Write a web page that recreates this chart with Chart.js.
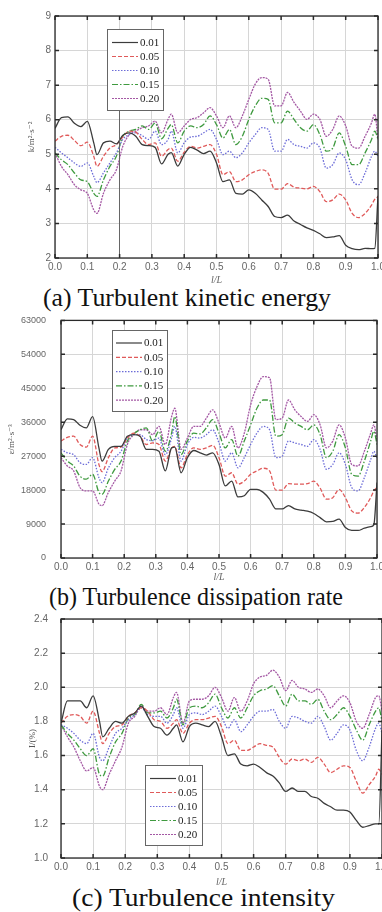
<!DOCTYPE html>
<html>
<head>
<meta charset="utf-8">
<script src="https://cdn.jsdelivr.net/npm/chart.js@4"></script>
<style>
  body { margin: 0; width: 382px; height: 912px; overflow: hidden; background: #fff; position: relative; }
  canvas { position: absolute; left: 0; }
  .cap { position: absolute; font-family: "Liberation Serif", "Times New Roman", Times, "DejaVu Serif", serif; font-size: 25px; line-height: 28px; color: #111; white-space: nowrap; transform-origin: 0 50%; }
</style>
</head>
<body>
<span class="cap" id="capA" data-left="43" data-width="288" style="top:284px">(a) Turbulent kinetic energy</span>
<span class="cap" id="capB" data-left="49" data-width="294" style="top:583px">(b) Turbulence dissipation rate</span>
<span class="cap" id="capC" data-left="72" data-width="263" style="top:884px">(c) Turbulence intensity</span>
<canvas id="chartA" width="390" height="286" style="top:0px"></canvas>
<canvas id="chartB" width="389" height="283" style="top:300px"></canvas>
<canvas id="chartC" width="394" height="288" style="top:600px"></canvas>
<script>
// position along the tube, shared by all curves
const xPos = [0, 0.02, 0.04, 0.06, 0.08, 0.10, 0.12, 0.13, 0.15, 0.17, 0.19, 0.21, 0.23, 0.25, 0.27, 0.29, 0.31, 0.33, 0.35,
  0.36, 0.38, 0.40, 0.42, 0.44, 0.46, 0.48, 0.50, 0.52, 0.54, 0.56, 0.58, 0.60, 0.62, 0.64, 0.66, 0.68, 0.70, 0.72, 0.74,
  0.76, 0.78, 0.80, 0.82, 0.84, 0.86, 0.88, 0.90, 0.92, 0.94, 0.96, 0.98, 0.99, 1.00];
const seriesLabels = ["0.01", "0.05", "0.10", "0.15", "0.20"];

// (a) turbulent kinetic energy, m2/s2
const ke001 = [5.75, 6.06, 6.08, 5.9, 5.8, 5.95, 5.33, 4.99, 5.33, 5.38, 5.3, 5.55, 5.62, 5.52, 5.28, 5.25, 5.2, 4.72, 5.0,
  5.05, 4.66, 5.0, 5.2, 5.12, 5.02, 5.09, 4.75, 4.21, 4.26, 3.87, 3.85, 3.97, 3.87, 3.68, 3.49, 3.2, 3.17, 3.24, 3.07,
  2.97, 2.87, 2.8, 2.7, 2.59, 2.61, 2.65, 2.37, 2.27, 2.24, 2.28, 2.27, 2.28, 3.8];
const ke005 = [5.38, 5.52, 5.55, 5.4, 5.25, 5.35, 4.94, 4.65, 4.94, 5.18, 5.28, 5.5, 5.67, 5.64, 5.43, 5.28, 5.33, 4.94, 5.14,
  5.18, 4.8, 5.06, 5.23, 5.18, 5.23, 5.28, 5.0, 4.41, 4.5, 4.21, 4.26, 4.41, 4.5, 4.55, 4.45, 3.99, 3.99, 4.15, 4.05,
  4.02, 4.0, 4.07, 3.92, 3.63, 3.68, 3.85, 3.68, 3.29, 3.17, 3.29, 3.53, 3.7, 3.77];
const ke010 = [5.2, 5.04, 4.9, 4.75, 4.65, 4.75, 4.36, 4.18, 4.46, 4.75, 5.04, 5.43, 5.57, 5.62, 5.54, 5.43, 5.67, 5.28, 5.43,
  5.67, 5.04, 5.33, 5.5, 5.52, 5.62, 5.72, 5.43, 4.99, 5.09, 4.9, 5.04, 5.33, 5.57, 5.77, 5.72, 5.09, 5.09, 5.43, 5.28,
  5.23, 5.18, 5.33, 5.18, 4.6, 4.7, 5.04, 4.84, 4.26, 4.12, 4.46, 4.94, 5.09, 4.94];
const ke015 = [5.04, 4.84, 4.7, 4.46, 4.26, 4.21, 3.87, 3.78, 4.26, 4.65, 4.94, 5.52, 5.67, 5.72, 5.82, 5.72, 5.9, 5.45, 5.75,
  5.86, 5.33, 5.67, 5.82, 5.77, 5.86, 6.11, 5.86, 5.47, 5.72, 5.28, 5.52, 6.01, 6.4, 6.62, 6.59, 5.91, 5.91, 6.25, 6.01,
  5.77, 5.67, 5.86, 5.57, 5.09, 5.18, 5.62, 5.23, 4.7, 4.7, 5.04, 5.43, 5.67, 5.43];
const ke020 = [5.04, 4.65, 4.41, 4.12, 3.97, 3.87, 3.39, 3.29, 3.87, 4.26, 4.55, 5.23, 5.57, 5.67, 5.77, 5.82, 5.96, 5.62, 6.01,
  6.16, 5.62, 5.82, 6.01, 6.06, 6.2, 6.35, 6.11, 5.77, 6.11, 5.77, 6.11, 6.59, 7.03, 7.22, 7.17, 6.4, 6.4, 6.79, 6.5,
  6.25, 6.01, 6.16, 6.01, 5.52, 5.72, 6.11, 5.82, 5.23, 5.18, 5.52, 5.91, 6.16, 5.43];

// (b) turbulence dissipation rate, m2/s3
const eps001 = [34000, 36900, 36700, 35200, 34500, 37500, 29200, 25700, 28800, 29600, 29600, 32300, 32700, 32300, 28800, 28800, 28300, 23100, 29200,
  29400, 22600, 26600, 28500, 27900, 27300, 27900, 24800, 19100, 20400, 16200, 16500, 18200, 18200, 17400, 15600, 13000, 13000, 13900, 13000,
  12700, 12400, 11800, 10700, 9600, 9700, 10300, 8100, 7300, 7300, 7900, 8300, 8800, 20000];
const eps005 = [31000, 32000, 32300, 30100, 29400, 32300, 24800, 22900, 26600, 29200, 29400, 31800, 33100, 32300, 30100, 30500, 30100, 25700, 29200,
  29600, 23900, 27400, 29200, 28800, 29200, 29900, 26600, 21700, 22600, 19600, 20400, 22200, 23100, 23800, 23100, 18000, 18000, 19700, 19600,
  19600, 19700, 20400, 18500, 15600, 16000, 18200, 16000, 12500, 11900, 13400, 16000, 17800, 18700];
const eps010 = [28800, 27900, 27400, 25300, 24800, 26600, 21300, 20000, 23900, 26600, 28300, 31800, 32700, 32700, 31400, 31100, 31800, 27400, 31800,
  34900, 25700, 30100, 32000, 31800, 32700, 34000, 30500, 25700, 27900, 23900, 26600, 30100, 33100, 34900, 34000, 26600, 27000, 31000, 30500,
  30100, 29600, 31400, 28800, 23500, 24800, 27900, 24800, 18700, 17800, 21300, 26100, 28300, 26600];
const eps015 = [27900, 25700, 24400, 21700, 20900, 22200, 17400, 16900, 20400, 23500, 25700, 31000, 32900, 34000, 34500, 31000, 33600, 28300, 33100,
  37500, 27400, 31000, 33100, 32900, 34500, 36700, 33100, 29200, 31400, 27000, 31000, 35300, 39700, 41900, 41900, 32300, 32700, 37100, 35800,
  34900, 34000, 35300, 32700, 26600, 28300, 32700, 29200, 22200, 21700, 25700, 31000, 33600, 30100];
const eps020 = [26600, 24400, 23100, 18700, 17800, 17800, 14300, 13900, 17400, 20400, 23100, 30100, 32700, 34000, 34000, 32700, 34900, 30100, 37500,
  39700, 28800, 31800, 34900, 34900, 37100, 39300, 35800, 31800, 34900, 29200, 33100, 40600, 45400, 48100, 47800, 36700, 37100, 41900, 39300,
  37500, 36200, 38000, 35300, 29200, 31000, 35300, 31800, 24800, 24400, 28300, 33100, 35300, 31000];

// (c) turbulence intensity, %
const ti001 = [1.79, 1.92, 1.92, 1.92, 1.88, 1.95, 1.8, 1.71, 1.76, 1.8, 1.79, 1.83, 1.85, 1.89, 1.83, 1.77, 1.76, 1.72, 1.76,
  1.78, 1.68, 1.77, 1.79, 1.78, 1.77, 1.8, 1.71, 1.6, 1.61, 1.55, 1.54, 1.55, 1.53, 1.5, 1.48, 1.44, 1.39, 1.41, 1.39,
  1.39, 1.36, 1.35, 1.32, 1.3, 1.28, 1.28, 1.27, 1.22, 1.18, 1.19, 1.2, 1.2, 1.75];
const ti005 = [1.79, 1.83, 1.84, 1.83, 1.79, 1.86, 1.73, 1.67, 1.73, 1.77, 1.78, 1.83, 1.85, 1.88, 1.86, 1.81, 1.8, 1.76, 1.79,
  1.81, 1.73, 1.79, 1.81, 1.81, 1.82, 1.83, 1.77, 1.67, 1.69, 1.63, 1.63, 1.65, 1.67, 1.66, 1.65, 1.59, 1.55, 1.58, 1.57,
  1.58, 1.56, 1.59, 1.55, 1.5, 1.52, 1.54, 1.53, 1.45, 1.38, 1.43, 1.48, 1.52, 1.49];
const ti010 = [1.78, 1.76, 1.73, 1.69, 1.67, 1.73, 1.59, 1.57, 1.65, 1.73, 1.76, 1.81, 1.84, 1.88, 1.84, 1.83, 1.83, 1.79, 1.84,
  1.88, 1.76, 1.84, 1.85, 1.84, 1.86, 1.89, 1.83, 1.76, 1.81, 1.74, 1.78, 1.83, 1.86, 1.86, 1.87, 1.8, 1.76, 1.83, 1.82,
  1.8, 1.79, 1.83, 1.77, 1.69, 1.73, 1.78, 1.75, 1.63, 1.57, 1.65, 1.76, 1.79, 1.73];
const ti015 = [1.78, 1.73, 1.69, 1.64, 1.6, 1.64, 1.49, 1.48, 1.59, 1.68, 1.73, 1.82, 1.84, 1.9, 1.85, 1.85, 1.86, 1.82, 1.88,
  1.93, 1.78, 1.88, 1.89, 1.88, 1.91, 1.96, 1.88, 1.82, 1.88, 1.82, 1.88, 1.95, 1.98, 1.99, 2.01, 1.95, 1.89, 1.96, 1.92,
  1.92, 1.9, 1.93, 1.86, 1.81, 1.84, 1.88, 1.83, 1.75, 1.69, 1.78, 1.86, 1.88, 1.8];
const ti020 = [1.78, 1.71, 1.65, 1.57, 1.51, 1.53, 1.42, 1.4, 1.49, 1.57, 1.65, 1.79, 1.83, 1.89, 1.86, 1.86, 1.88, 1.84, 1.94,
  1.97, 1.79, 1.92, 1.93, 1.93, 1.95, 2.0, 1.94, 1.86, 1.94, 1.86, 1.92, 2.02, 2.06, 2.07, 2.1, 2.06, 1.98, 2.04, 2.0,
  1.99, 1.97, 1.99, 1.95, 1.88, 1.92, 1.95, 1.91, 1.8, 1.76, 1.84, 1.94, 1.95, 1.86];

const lineStyles = [
  { color: "#3c3c3c", dash: [] },
  { color: "#e05a5a", dash: [4, 2] },
  { color: "#6c6cd8", dash: [1.5, 1.5] },
  { color: "#3f9a3f", dash: [6, 2, 1.5, 2] },
  { color: "#a458a4", dash: [2, 1] }
];

const SERIF = '"Liberation Serif", "Times New Roman", Times, "DejaVu Serif", serif';
const SANS = '"Liberation Sans", Arial, Helvetica, sans-serif';

// frame, inward ticks on all four sides, the boxed legend
const framePlugin = {
  id: "frame",
  afterDraw(chart, args, opts) {
    const { ctx, chartArea: a, scales } = chart;
    const xs = scales.x, ys = scales.y;
    ctx.save();
    if (opts.mark) {
      // stray dark rule under the legend in panel (a)
      const px = Math.round(xs.getPixelForValue(opts.mark.x) - 0.5) + 0.5;
      ctx.strokeStyle = "#666";
      ctx.lineWidth = 1;
      ctx.beginPath();
      ctx.moveTo(px, opts.mark.y0); ctx.lineTo(px, a.bottom);
      ctx.stroke();
    }
    ctx.strokeStyle = "#2a2a2a";
    ctx.lineWidth = 1.3;
    ctx.strokeRect(a.left, a.top, a.right - a.left, a.bottom - a.top);
    ctx.lineWidth = 1.5;
    ctx.beginPath();
    xs.ticks.forEach(t => {
      const px = xs.getPixelForValue(t.value);
      ctx.moveTo(px, a.top); ctx.lineTo(px, a.top + 4);
      ctx.moveTo(px, a.bottom); ctx.lineTo(px, a.bottom - 4);
    });
    ys.ticks.forEach(t => {
      const py = ys.getPixelForValue(t.value);
      ctx.moveTo(a.left, py); ctx.lineTo(a.left + 4, py);
      ctx.moveTo(a.right, py); ctx.lineTo(a.right - 4, py);
    });
    ctx.stroke();

    const L = opts.box;
    ctx.fillStyle = "#fff";
    ctx.fillRect(L.x, L.y, L.w, L.h);
    ctx.strokeStyle = "#666";
    ctx.lineWidth = 1;
    ctx.strokeRect(L.x + 0.5, L.y + 0.5, L.w, L.h);
    ctx.font = "11px " + SERIF;
    ctx.textBaseline = "middle";
    chart.data.datasets.forEach((ds, i) => {
      const yy = L.row0 + i * L.gap;
      ctx.setLineDash(ds.borderDash);
      ctx.strokeStyle = ds.borderColor;
      ctx.lineWidth = 1.2;
      ctx.beginPath();
      ctx.moveTo(L.l0, yy); ctx.lineTo(L.l1, yy);
      ctx.stroke();
      ctx.setLineDash([]);
      ctx.fillStyle = "#222";
      ctx.fillText(ds.label, L.tx, yy + 0.5);
    });
    ctx.restore();
  }
};

function makeChart(id, series, cfg) {
  const canvas = document.getElementById(id);
  const datasets = series.map((vals, i) => ({
    label: seriesLabels[i],
    data: xPos.map((x, j) => ({ x: x, y: vals[j] })),
    borderColor: lineStyles[i].color,
    borderDash: lineStyles[i].dash,
    borderWidth: 1.3,
    pointRadius: 0,
    cubicInterpolationMode: "monotone",
    fill: false
  }));

  return new Chart(canvas, {
    type: "line",
    data: { datasets: datasets },
    plugins: [framePlugin],
    options: {
      responsive: false,
      animation: false,
      layout: { padding: { top: cfg.top, right: canvas.width - cfg.right, left: 0, bottom: 0 } },
      plugins: {
        legend: { display: false },
        tooltip: { enabled: false },
        frame: { box: cfg.box, mark: cfg.mark }
      },
      scales: {
        x: {
          type: "linear",
          min: 0, max: 1,
          afterFit: s => { s.height = canvas.height - cfg.bottom; },
          grid: { color: "#d6d6d6", drawTicks: false },
          border: { display: false },
          ticks: {
            stepSize: 0.1, padding: 3, color: "#666", maxRotation: 0,
            font: { family: SANS, size: 10 },
            callback: v => v.toFixed(1)
          },
          title: {
            display: true, text: "l/L", color: "#666", padding: { top: 0, bottom: 0 },
            font: { family: SERIF, size: 10, style: "italic" }
          }
        },
        y: {
          min: cfg.yMin, max: cfg.yMax,
          afterFit: s => { s.width = cfg.left; },
          grid: { color: "#d6d6d6", drawTicks: false },
          border: { display: false },
          ticks: {
            stepSize: cfg.yStep, padding: cfg.tickPad, color: "#666",
            font: { family: SANS, size: cfg.tickSize },
            callback: v => v.toFixed(cfg.dec)
          },
          title: {
            display: true, text: cfg.yTitle, color: "#555", padding: { top: cfg.titlePad, bottom: 0 },
            font: { family: SERIF, size: 9 }
          }
        }
      }
    }
  });
}

makeChart("chartA", [ke001, ke005, ke010, ke015, ke020], {
  top: 16, bottom: 258, left: 55, right: 378, tickPad: 4, tickSize: 10,
  yMin: 2, yMax: 9, yStep: 1, dec: 0, yTitle: "k/m²·s⁻²", titlePad: 26,
  box: { x: 107, y: 29, w: 56, h: 81, row0: 42.5, gap: 14, l0: 112, l1: 138, tx: 140 },
  mark: { x: 0.2, y0: 111 }
});

makeChart("chartB", [eps001, eps005, eps010, eps015, eps020], {
  top: 18, bottom: 258, left: 61, right: 377, tickPad: 15, tickSize: 9,
  yMin: 0, yMax: 63000, yStep: 9000, dec: 0, yTitle: "ε/m²·s⁻³", titlePad: 6,
  box: { x: 112, y: 30, w: 55, h: 81, row0: 43, gap: 14.3, l0: 116, l1: 142, tx: 144 }
});

makeChart("chartC", [ti001, ti005, ti010, ti015, ti020], {
  top: 17, bottom: 258, left: 61, right: 382, tickPad: 13, tickSize: 10,
  yMin: 1.0, yMax: 2.4, yStep: 0.2, dec: 1, yTitle: "I/(%)", titlePad: 27,
  box: { x: 145, y: 165, w: 57, h: 80, row0: 178.5, gap: 14, l0: 150, l1: 176, tx: 178 }
});

// stretch each caption to the span it has in the figure
document.querySelectorAll(".cap").forEach(el => {
  const w = el.getBoundingClientRect().width;
  el.style.left = el.dataset.left + "px";
  el.style.transform = "scaleX(" + (Number(el.dataset.width) / w).toFixed(3) + ")";
});
</script>
</body>
</html>
